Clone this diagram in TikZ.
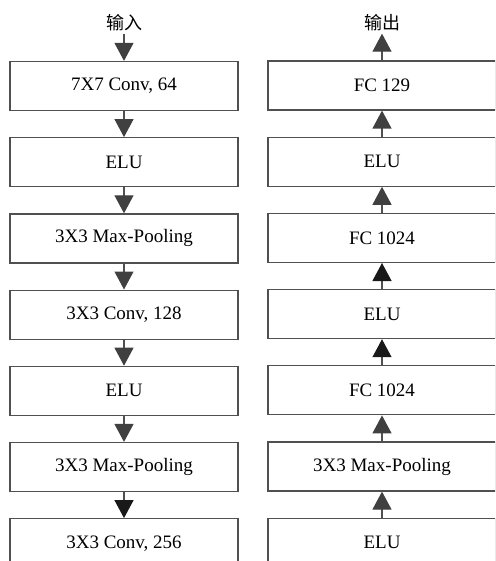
\documentclass[tikz,border=0pt]{standalone}
\usepackage{fontspec}
\setmainfont{Liberation Serif}
\newfontfamily\cjk{Noto Sans CJK SC}
\usepackage{tikz}
\usetikzlibrary{arrows.meta,positioning}
\definecolor{edgegray}{HTML}{505050}
\definecolor{tipgray}{HTML}{404040}

\begin{document}
\begin{tikzpicture}[node distance=13pt,
  every node/.style={align=center, font=\fontsize{9.5}{11}\selectfont},
  blk/.style={draw=edgegray, line width=0.6pt, minimum width=114pt, minimum height=24.5pt, inner sep=0pt},
  lnk/.style={-{Triangle[width=9.5pt,length=9pt,color=tipgray]}, draw=edgegray, line width=0.6pt},
  lnkdark/.style={-{Triangle[width=9.5pt,length=9pt,color=black!90]}, draw=edgegray, line width=0.6pt},
  lbl/.style={font=\cjk\fontsize{9}{10}\selectfont, inner sep=1pt}]
  \useasboundingbox (0,0) rectangle (247.5pt,-280.5pt);
  \clip (0,0) rectangle (247.5pt,-280.5pt);
  % left column, top to bottom
  \node[lbl] (in) at (62pt,-11.5pt) {输入};
  \node[blk] (l1) at (62pt,-43pt) {7X7 Conv, 64};
  \node[blk,below=of l1] (l2) {ELU};
  \node[blk,below=of l2] (l3) {3X3 Max-Pooling};
  \node[blk,below=of l3] (l4) {3X3 Conv, 128};
  \node[blk,below=of l4] (l5) {ELU};
  \node[blk,below=of l5] (l6) {3X3 Max-Pooling};
  \node[blk,below=of l6,minimum height=30pt,text depth=6pt] (l7) {3X3 Conv, 256};
  \draw[lnk] (in.south) -- (l1.north);
  \foreach \a/\b in {l1/l2,l2/l3,l3/l4,l4/l5,l5/l6}
    \draw[lnk] (\a.south) -- (\b.north);
  \draw[lnkdark] (l6.south) -- (l7.north);
  % right column, data flows upward
  \node[lbl] (out) at (191pt,-11.5pt) {输出};
  \node[blk] (r1) at (191pt,-42.75pt) {FC 129};
  \node[blk,below=of r1] (r2) {ELU};
  \node[blk,below=of r2] (r3) {FC 1024};
  \node[blk,below=of r3] (r4) {ELU};
  \node[blk,below=of r4] (r5) {FC 1024};
  \node[blk,below=of r5] (r6) {3X3 Max-Pooling};
  \node[blk,below=of r6] (r7) {ELU};
  \draw[lnk] (r1.north) -- (out.south);
  \foreach \a/\b in {r2/r1,r3/r2,r6/r5,r7/r6}
    \draw[lnk] (\a.north) -- (\b.south);
  \draw[lnkdark] (r4.north) -- (r3.south);
  \draw[lnkdark] (r5.north) -- (r4.south);
\end{tikzpicture}
\end{document}
